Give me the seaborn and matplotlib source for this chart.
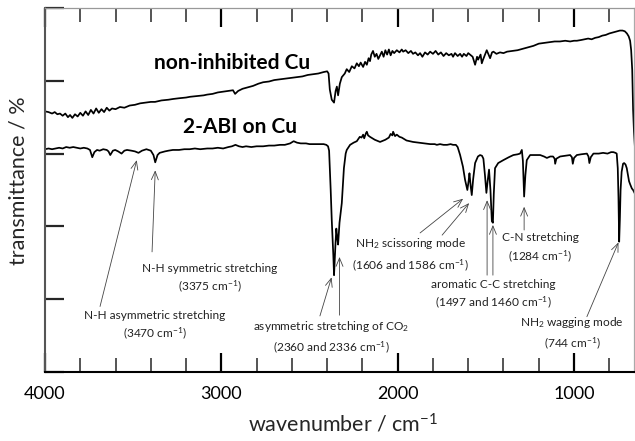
import numpy as np
import pandas as pd
import matplotlib
matplotlib.use("Agg")
import matplotlib.pyplot as plt
from matplotlib.ticker import MultipleLocator, NullFormatter
import seaborn as sns

# ---------------- data ----------------
wn_top = [4000, 3980, 3960, 3945, 3930, 3915, 3900, 3885, 3870, 3858, 3845, 3830, 3815, 3800,
          3785, 3770, 3755, 3740, 3725, 3710, 3695, 3680, 3665, 3650, 3635, 3620, 3600, 3575,
          3550, 3520, 3490, 3461, 3430, 3400, 3376, 3340, 3300, 3274, 3240, 3200, 3178, 3140,
          3100, 3081, 3050, 3020, 2990, 2960, 2934, 2922, 2905, 2880, 2850, 2820, 2790, 2763,
          2730, 2700, 2667, 2630, 2600, 2571, 2540, 2510, 2480, 2450, 2420, 2400, 2392, 2385,
          2374, 2361, 2352, 2345, 2338, 2328, 2317, 2300, 2289, 2275, 2260, 2245, 2232, 2220,
          2210, 2196, 2185, 2175, 2165, 2157, 2150, 2140, 2130, 2120, 2110, 2100, 2090, 2080,
          2070, 2060, 2050, 2040, 2030, 2020, 2005, 1990, 1977, 1969, 1955, 1940, 1925, 1913,
          1900, 1885, 1873, 1860, 1845, 1830, 1816, 1800, 1785, 1770, 1755, 1740, 1725, 1710,
          1695, 1686, 1675, 1660, 1646, 1635, 1625, 1610, 1600, 1590, 1575, 1561, 1550, 1544,
          1530, 1523, 1516, 1505, 1495, 1485, 1476, 1465, 1457, 1440, 1420, 1400, 1380, 1350,
          1320, 1290, 1260, 1230, 1200, 1170, 1140, 1110, 1080, 1050, 1022, 1000, 984, 960,
          940, 920, 900, 880, 860, 840, 820, 800, 785, 770, 755, 740, 725, 712, 700, 690, 682,
          676, 670, 665, 660, 650]
t_top = [3.58, 3.57, 3.55, 3.57, 3.54, 3.55, 3.52, 3.55, 3.50, 3.53, 3.49, 3.54, 3.51, 3.56,
         3.52, 3.58, 3.53, 3.60, 3.55, 3.62, 3.56, 3.61, 3.57, 3.63, 3.59, 3.62, 3.61, 3.64,
         3.63, 3.66, 3.67, 3.69, 3.70, 3.71, 3.71, 3.73, 3.74, 3.75, 3.76, 3.77, 3.78, 3.79,
         3.80, 3.81, 3.82, 3.84, 3.85, 3.86, 3.87, 3.82, 3.86, 3.89, 3.91, 3.93, 3.96, 3.98,
         3.99, 4.01, 4.02, 4.03, 4.04, 4.05, 4.06, 4.08, 4.09, 4.10, 4.12, 4.13, 4.10, 3.88,
         3.74, 3.70, 3.86, 3.92, 3.80, 3.96, 4.05, 4.10, 4.16, 4.12, 4.20, 4.17, 4.24, 4.20,
         4.25, 4.19, 4.26, 4.22, 4.31, 4.27, 4.36, 4.41, 4.33, 4.37, 4.30, 4.35, 4.40, 4.33,
         4.42, 4.36, 4.43, 4.35, 4.41, 4.38, 4.42, 4.39, 4.43, 4.40, 4.42, 4.38, 4.41, 4.37,
         4.39, 4.35, 4.38, 4.33, 4.39, 4.36, 4.40, 4.37, 4.41, 4.36, 4.39, 4.34, 4.38, 4.35,
         4.37, 4.33, 4.38, 4.34, 4.37, 4.33, 4.37, 4.34, 4.38, 4.36, 4.33, 4.22, 4.33, 4.29,
         4.36, 4.24, 4.29, 4.36, 4.42, 4.36, 4.31, 4.39, 4.40, 4.37, 4.39, 4.38, 4.40, 4.41,
         4.42, 4.44, 4.46, 4.48, 4.51, 4.52, 4.53, 4.54, 4.54, 4.55, 4.54, 4.55, 4.55, 4.56,
         4.57, 4.58, 4.57, 4.59, 4.60, 4.62, 4.63, 4.65, 4.66, 4.67, 4.68, 4.69, 4.69, 4.68,
         4.65, 4.61, 4.55, 4.42, 4.15, 3.60, 3.30, 2.90]

wn_bot = [4000, 3980, 3960, 3940, 3920, 3900, 3880, 3860, 3840, 3820, 3800, 3780, 3760, 3745,
          3732, 3720, 3705, 3690, 3670, 3650, 3640, 3630, 3615, 3602, 3585, 3566, 3550, 3535,
          3510, 3490, 3470, 3450, 3425, 3400, 3385, 3375, 3362, 3350, 3320, 3300, 3275, 3240,
          3210, 3180, 3150, 3120, 3080, 3050, 3020, 2990, 2960, 2940, 2920, 2900, 2880, 2860,
          2830, 2800, 2763, 2730, 2700, 2667, 2640, 2610, 2590, 2571, 2550, 2520, 2500, 2480,
          2450, 2420, 2405, 2395, 2389, 2380, 2374, 2365, 2361, 2353, 2348, 2343, 2338, 2330,
          2317, 2305, 2295, 2289, 2270, 2250, 2232, 2215, 2205, 2196, 2190, 2180, 2175, 2168,
          2157, 2130, 2100, 2070, 2050, 2040, 2030, 2026, 2015, 2005, 1990, 1977, 1950, 1913,
          1880, 1850, 1816, 1790, 1778, 1760, 1740, 1720, 1700, 1686, 1670, 1660, 1646, 1630,
          1618, 1610, 1605, 1598, 1593, 1586, 1580, 1572, 1561, 1545, 1533, 1522, 1514, 1505,
          1497, 1490, 1482, 1474, 1466, 1460, 1455, 1448, 1430, 1401, 1370, 1344, 1320, 1306,
          1296, 1290, 1283, 1276, 1268, 1249, 1230, 1211, 1192, 1170, 1154, 1135, 1119, 1110,
          1107, 1100, 1079, 1050, 1022, 1012, 1007, 1000, 984, 960, 927, 918, 913, 905, 890,
          860, 835, 810, 790, 777, 765, 758, 752, 748, 744, 740, 736, 730, 722, 716, 708, 701,
          695, 688, 682, 672, 665, 655]
t_bot = [3.06, 3.07, 3.06, 3.07, 3.08, 3.07, 3.09, 3.08, 3.09, 3.08, 3.07, 3.08, 3.07, 3.05,
         2.95, 3.02, 3.05, 3.04, 3.06, 3.05, 3.03, 2.98, 3.04, 3.05, 3.03, 3.00, 3.04, 3.05,
         3.04, 3.03, 3.01, 3.04, 3.06, 3.04, 2.98, 2.88, 2.98, 3.01, 3.03, 3.04, 3.05, 3.05,
         3.06, 3.06, 3.07, 3.06, 3.07, 3.07, 3.08, 3.07, 3.09, 3.10, 3.12, 3.10, 3.09, 3.10,
         3.09, 3.10, 3.10, 3.11, 3.11, 3.12, 3.12, 3.14, 3.17, 3.15, 3.14, 3.14, 3.13, 3.13,
         3.13, 3.13, 3.12, 3.10, 3.04, 2.50, 2.09, 1.60, 1.33, 1.75, 1.97, 1.85, 1.75, 2.05,
         2.32, 2.80, 3.00, 3.05, 3.12, 3.15, 3.17, 3.23, 3.22, 3.26, 3.21, 3.28, 3.30, 3.25,
         3.23, 3.19, 3.16, 3.19, 3.22, 3.27, 3.25, 3.30, 3.24, 3.26, 3.23, 3.22, 3.18, 3.16,
         3.15, 3.14, 3.13, 3.13, 3.12, 3.13, 3.12, 3.12, 3.13, 3.12, 3.12, 3.09, 2.98, 2.82,
         2.64, 2.55, 2.50, 2.62, 2.73, 2.55, 2.43, 2.65, 2.87, 2.96, 2.98, 2.97, 2.93, 2.70,
         2.46, 2.62, 2.78, 2.50, 2.07, 2.05, 2.45, 2.80, 2.87, 2.91, 2.95, 2.98, 2.99, 3.00,
         3.05, 2.90, 2.41, 2.70, 2.91, 2.98, 2.98, 2.98, 2.98, 2.96, 2.94, 2.96, 2.96, 2.93,
         2.86, 2.93, 2.96, 2.97, 2.98, 2.95, 2.86, 2.94, 2.98, 2.99, 3.00, 2.96, 2.87, 2.95, 3.00,
         3.00, 3.01, 3.00, 3.02, 3.02, 3.01, 3.00, 2.80, 2.40, 1.79, 2.10, 2.50, 2.75, 2.86, 2.87,
         2.85, 2.80, 2.72, 2.62, 2.58, 2.52, 2.50, 2.45]

x_ticks = [4000, 3000, 2000, 1000]
x_tick_labels = ["4000", "3000", "2000", "1000"]

# labels for the spectra
series_labels = ["non-inhibited Cu", "2-ABI on Cu"]

# peak assignments: (line 1, line 2)
peak_texts = [
    ("N-H symmetric stretching", r"(3375 cm$^{-1}$)"),
    ("N-H asymmetric stretching", r"(3470 cm$^{-1}$)"),
    (r"asymmetric stretching of CO$_2$", r"(2360 and 2336 cm$^{-1}$)"),
    (r"NH$_2$ scissoring mode", r"(1606 and 1586 cm$^{-1}$)"),
    ("aromatic C-C stretching", r"(1497 and 1460 cm$^{-1}$)"),
    ("C-N stretching", r"(1284 cm$^{-1}$)"),
    (r"NH$_2$ wagging mode", r"(744 cm$^{-1}$)"),
]

# ---------------- layout (positions only) ----------------
series_label_pos = [(2937, 4.24), (2894, 3.37)]
peak_text_pos = [  # (x, y line1, y line2)
    (3066, 1.42, 1.18),
    (3376, 0.78, 0.54),
    (2378, 0.62, 0.34),
    (1927, 1.77, 1.47),
    (1459, 1.195, 0.96),
    (1192, 1.845, 1.59),
    (1011, 0.68, 0.39),
]
arrows = [  # (head x, head y, tail x, tail y)
    (3480, 2.91, 3688, 0.90),
    (3375, 2.77, 3393, 1.65),
    (2375, 1.30, 2441, 0.77),
    (2330, 1.58, 2330, 0.78),
    (1629, 2.38, 1873, 1.91),
    (1595, 2.32, 1748, 1.88),
    (1493, 2.36, 1493, 1.33),
    (1460, 2.02, 1460, 1.33),
    (1283, 2.27, 1283, 1.95),
    (748, 1.78, 927, 0.76),
]

# ---------------- plot ----------------
sns.set_style("ticks")
plt.rcParams["font.family"] = ["Lato", "DejaVu Sans"]
plt.rcParams["mathtext.default"] = "regular"

fig = plt.figure(figsize=(6.35, 4.41), dpi=100)
ax = fig.add_axes([0.0709, 0.1565, 0.9275, 0.8254])

df_top = pd.DataFrame({"wn": wn_top, "t": t_top})
df_bot = pd.DataFrame({"wn": wn_bot, "t": t_bot})
sns.lineplot(data=df_top, x="wn", y="t", sort=False, estimator=None, color="black", lw=1.25, ax=ax)
sns.lineplot(data=df_bot, x="wn", y="t", sort=False, estimator=None, color="black", lw=1.25, ax=ax)

ax.set_xlim(4000, 660)
ax.set_ylim(0, 5)

ax.set_xticks(x_ticks)
ax.set_xticklabels(x_tick_labels)
ax.xaxis.set_minor_locator(MultipleLocator(200))
ax.set_yticks([0, 1, 2, 3, 4, 5])
ax.yaxis.set_major_formatter(NullFormatter())
ax.tick_params(axis="x", which="major", direction="in", length=14, width=1.6, top=True,
               labelsize=13, pad=10, colors="black")
ax.tick_params(axis="x", which="minor", direction="in", length=10, width=1.1, top=True)
ax.tick_params(axis="y", which="major", direction="in", length=14, width=1.6, left=True, right=False)

ax.spines["left"].set_color("#555555")
ax.spines["left"].set_linewidth(1.5)
ax.spines["bottom"].set_color("black")
ax.spines["bottom"].set_linewidth(1.5)
ax.spines["top"].set_color("#999999")
ax.spines["top"].set_linewidth(0.9)
ax.spines["right"].set_color("#aaaaaa")
ax.spines["right"].set_linewidth(0.9)

ax.set_xlabel(r"wavenumber / cm$^{-1}$", fontsize=15.5)
ax.set_ylabel("transmittance / %", fontsize=15.5)
ax.xaxis.set_label_coords(0.506, -0.112)
ax.yaxis.set_label_coords(-0.028, 0.525)

for (lab, (x, y)) in zip(series_labels, series_label_pos):
    ax.text(x, y, lab, fontsize=15, fontweight="bold", ha="center", va="center", color="black")

for (l1, l2), (x, y1, y2) in zip(peak_texts, peak_text_pos):
    ax.text(x, y1, l1, fontsize=8.6, ha="center", va="center", color="#222222")
    ax.text(x, y2, l2, fontsize=8.6, ha="center", va="center", color="#222222")

for hx, hy, tx, ty in arrows:
    ax.annotate("", xy=(hx, hy), xytext=(tx, ty),
                arrowprops=dict(arrowstyle="->,head_length=0.6,head_width=0.25", lw=0.6,
                                color="#444444", shrinkA=0, shrinkB=0, mutation_scale=10))

fig.savefig("out.png", dpi=100)
